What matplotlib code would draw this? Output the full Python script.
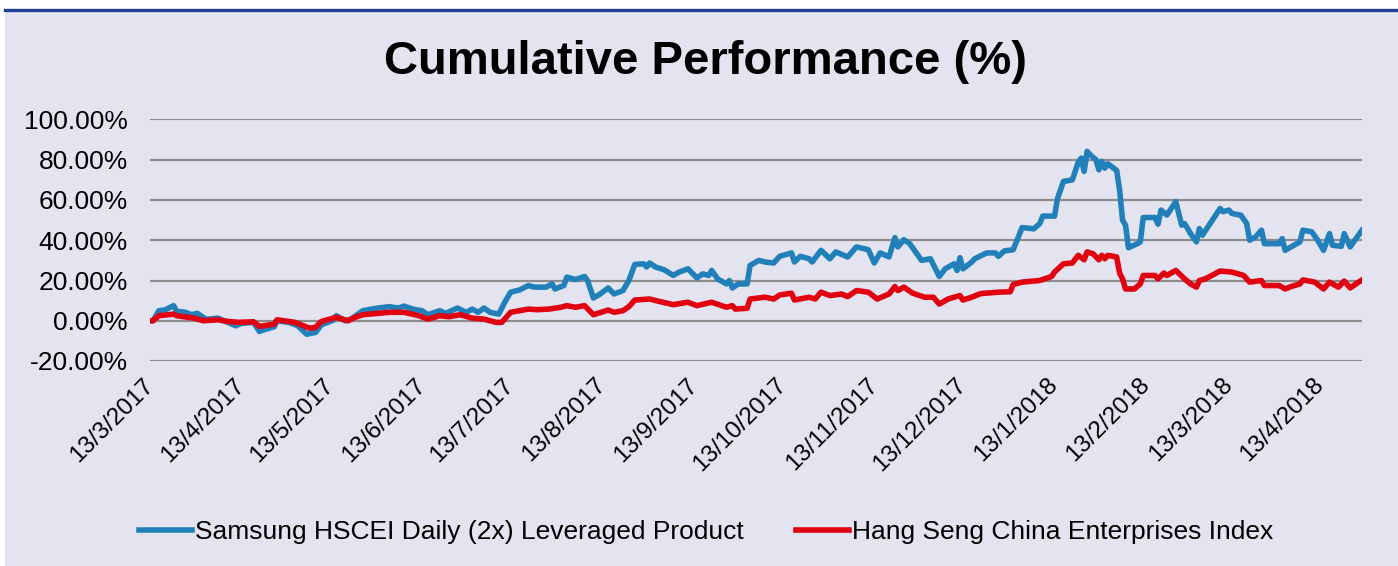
import pandas as pd
import matplotlib
matplotlib.use("Agg")
import matplotlib.pyplot as plt
import matplotlib.dates as mdates
from matplotlib.ticker import FuncFormatter, MultipleLocator
from matplotlib.patches import Rectangle
from matplotlib.lines import Line2D

# ── Data ─────────────────────────────────────────────────────────────────────
START = pd.Timestamp("2017-03-13")

# trading-day positions given as days after 13/3/2017, values in %
product_days = [0, 1, 3, 5, 8, 9, 12, 14, 16, 19, 23, 25, 29, 31, 35, 37, 39, 42, 43,
                47, 50, 53, 56, 58, 62, 63, 66, 68, 72, 77, 81, 84, 86, 89, 92, 94,
                98, 100, 104, 107, 109, 111, 113, 115, 118, 120, 122, 125, 128, 130,
                134, 136, 137, 140, 141, 144, 147, 148, 150, 152, 155, 157, 160, 162,
                164, 167, 168, 169, 171, 174, 177, 179, 182, 185, 187, 189, 190, 192,
                195, 196, 197, 199, 202, 203, 206, 208, 211, 213, 217, 218, 220, 223,
                224, 227, 230, 232, 236, 239, 243, 245, 247, 250, 252, 253, 255, 257,
                261, 264, 267, 269, 272, 273, 274, 275, 278, 279, 283, 286, 287, 289,
                292, 294, 295, 299, 301, 302, 306, 307, 309, 312, 314, 315, 316, 317,
                318, 320, 321, 322, 323, 324, 327, 328, 329, 330, 331, 334, 335, 336,
                340, 341, 342, 344, 347, 349, 350, 352, 354, 355, 356, 359, 362, 363,
                365, 366, 369, 371, 372, 374, 376, 377, 382, 383, 384, 389, 390, 393,
                395, 397, 399, 400, 403, 404, 406, 410]
product_pct = [0, 0, 5, 5.3, 7.5, 4.7, 4.2, 3, 3.7, 0.7, 1.3, 0, -2.5, -1.3, -0.8, -5.3,
               -4.3, -3, 0, -0.8, -2.5, -6.7, -5.8, -2, 0.3, 2.5, 0, 0.8, 5, 6.3, 7,
               6.3, 7.3, 5.7, 5, 3, 5, 3.7, 6.3, 4.2, 5.8, 4.2, 6.3, 4.2, 3.3, 9.2,
               14.2, 15.3, 17.5, 16.7, 16.7, 18.3, 15.8, 17.5, 21.7, 20.5, 22, 20,
               11.3, 13, 16.3, 13.3, 15, 20, 28, 28.3, 26.7, 28.7, 26.7, 25.3, 22.5,
               24.2, 25.8, 21.3, 23.3, 22.5, 25, 20.8, 18.3, 20, 16.3, 18.3, 18.3,
               27.5, 30, 29.2, 28.7, 32, 33.7, 29.2, 32, 30.8, 29.2, 35, 30.8, 34.2,
               31.7, 36.7, 35.3, 28.7, 33.7, 31.7, 41.3, 36.7, 40.3, 38.3, 30, 30.8,
               22, 25.8, 28.3, 25, 31.3, 25.8, 29.2, 30.8, 33.7, 33.7, 32, 34.7, 35.3,
               42.5, 46.3, 45.7, 48.3, 52, 52, 60.8, 69.2, 70, 78.7, 80.8, 74.2, 84.2,
               82.5, 80, 75, 79.2, 75.8, 78, 74.7, 65, 50, 47.5, 36.3, 38.3, 39.2,
               51.3, 51.3, 48, 55, 52.5, 59.2, 47.5, 48.3, 43.3, 39.2, 45.8, 42.5,
               49.2, 55.8, 54.2, 55, 53.3, 52.5, 48.3, 40, 41.7, 45, 38.3, 38.3, 40.8,
               35, 39.2, 45, 44.2, 40, 35, 43.3, 37.5, 37, 43.3, 36.7, 45]

index_days = [0, 1, 3, 8, 9, 15, 18, 23, 26, 30, 35, 37, 42, 43, 49, 54, 56, 58, 63,
              67, 69, 72, 81, 86, 91, 94, 98, 101, 105, 109, 113, 117, 119, 122, 128,
              131, 135, 139, 141, 144, 147, 150, 155, 157, 160, 162, 164, 169, 172,
              177, 182, 185, 190, 195, 197, 198, 202, 203, 208, 211, 213, 217, 218,
              223, 225, 227, 230, 234, 236, 239, 243, 246, 250, 252, 253, 255, 258,
              262, 265, 267, 270, 272, 274, 275, 278, 281, 287, 291, 292, 295, 301,
              305, 306, 309, 312, 314, 316, 317, 319, 321, 322, 323, 324, 327, 328,
              329, 330, 333, 335, 336, 340, 341, 343, 344, 347, 350, 352, 354, 355,
              357, 362, 366, 370, 372, 376, 377, 382, 384, 386, 389, 390, 394, 397,
              399, 402, 404, 406, 410]
index_pct = [0, 0, 2.5, 3.3, 2.5, 1.3, 0, 0.5, -0.3, -0.8, -0.5, -2.8, -1.7, 0.5,
             -0.8, -3.7, -3.3, -0.3, 1.7, 0, 1.5, 3, 4.2, 4.2, 2.5, 0.8, 2.5, 2, 3,
             1.3, 0.8, -0.8, -0.8, 4.2, 5.8, 5.5, 5.8, 6.7, 7.5, 6.7, 7.5, 3, 5.3,
             4.2, 5, 7, 10.3, 10.8, 9.7, 8, 9.2, 7.5, 9.2, 6.7, 7.5, 5.8, 6.2, 10.8,
             11.7, 10.8, 12.8, 13.7, 10.3, 11.7, 10.8, 14.2, 12.5, 13.3, 12, 15,
             14.2, 10.8, 13.3, 17, 15, 16.7, 13.7, 11.7, 11.7, 8.3, 10.8, 11.7, 12.5,
             10.3, 11.7, 13.5, 14.2, 14.4, 18, 19.2, 20, 22, 24.2, 28.3, 28.7, 32.5,
             30.3, 34.2, 33.3, 30.3, 32.5, 30.8, 32.5, 31.7, 23.7, 20.8, 15.8, 15.8,
             18.3, 22.5, 22.5, 20.8, 23.7, 22.5, 25, 20.8, 18.3, 16.7, 20, 20.8, 24.7,
             24.2, 22.5, 19.2, 20, 17.5, 17.5, 15.8, 17, 18.3, 20.3, 19.2, 15.8, 19.2,
             16.7, 19.7, 16.3, 20.3]

SERIES_NAMES = ["Samsung HSCEI Daily (2x) Leveraged Product",
                "Hang Seng China Enterprises Index"]
SERIES_COLORS = ["#2180BA", "#E1000F"]
TITLE = "Cumulative Performance (%)"
Y_MIN, Y_MAX, Y_STEP = -20, 100, 20

BG = "#E4E4F0"
GRID = "#8C8C8C"
BORDER = "#1F3F8F"

plt.rcParams["font.family"] = ["Liberation Sans", "DejaVu Sans"]

# ── Plot ──────────────────────────────────────────────────────────────────────
W, H = 1398, 566
fig = plt.figure(figsize=(W / 100, H / 100), dpi=100, facecolor="white")

# lavender panel and dark blue rule along the top (kept behind the axes)
fig.patches.append(Rectangle((5 / W, 0), 1 - 5 / W, 1 - 11 / H,
                             transform=fig.transFigure, facecolor=BG,
                             edgecolor="none", zorder=-10))
fig.lines.append(Line2D([5 / W, 1], [1 - 10 / H, 1 - 10 / H],
                        transform=fig.transFigure, color=BORDER, lw=2.4,
                        zorder=-5))

ax = fig.add_axes([150 / W, 1 - 361 / H, 1212 / W, 241.5 / H])
ax.set_facecolor(BG)
ax.set_zorder(1)

product_dates = START + pd.to_timedelta(product_days, unit="D")
index_dates = START + pd.to_timedelta(index_days, unit="D")

ax.plot(product_dates, product_pct, color=SERIES_COLORS[0], lw=4.0,
        solid_joinstyle="round", label=SERIES_NAMES[0], zorder=3)
ax.plot(index_dates, index_pct, color=SERIES_COLORS[1], lw=4.0,
        solid_joinstyle="round", label=SERIES_NAMES[1], zorder=4)

ax.set_xlim(product_dates[0], product_dates[-1])
ax.set_ylim(Y_MIN, Y_MAX)
ax.yaxis.set_major_locator(MultipleLocator(Y_STEP))
ax.yaxis.set_major_formatter(FuncFormatter(lambda v, _: f"{v:.2f}%"))
ax.xaxis.set_major_locator(mdates.MonthLocator(bymonthday=13))
ax.xaxis.set_major_formatter(FuncFormatter(
    lambda v, _: (lambda d: f"{d.day}/{d.month}/{d.year}")(mdates.num2date(v))))

ax.grid(axis="y", color=GRID, lw=1.6)
ax.set_axisbelow(True)
for s in ax.spines.values():
    s.set_visible(False)

ax.tick_params(axis="y", length=0, pad=16, labelsize=19)
ax.tick_params(axis="x", length=0, pad=15, labelsize=17.5)
for lab in ax.get_xticklabels():
    lab.set_rotation(45)
    lab.set_ha("right")
    lab.set_va("center")
    lab.set_rotation_mode("anchor")

fig.text(706 / W, 1 - 62 / H, TITLE, ha="center", va="center",
         fontsize=34, fontweight="bold")

fig.legend(loc="center", bbox_to_anchor=(706 / W, 1 - 532 / H), ncol=2,
           frameon=False, fontsize=19, handlelength=2.0, handletextpad=0.1,
           columnspacing=2.0)

fig.savefig("out.png", dpi=100, facecolor="white")
